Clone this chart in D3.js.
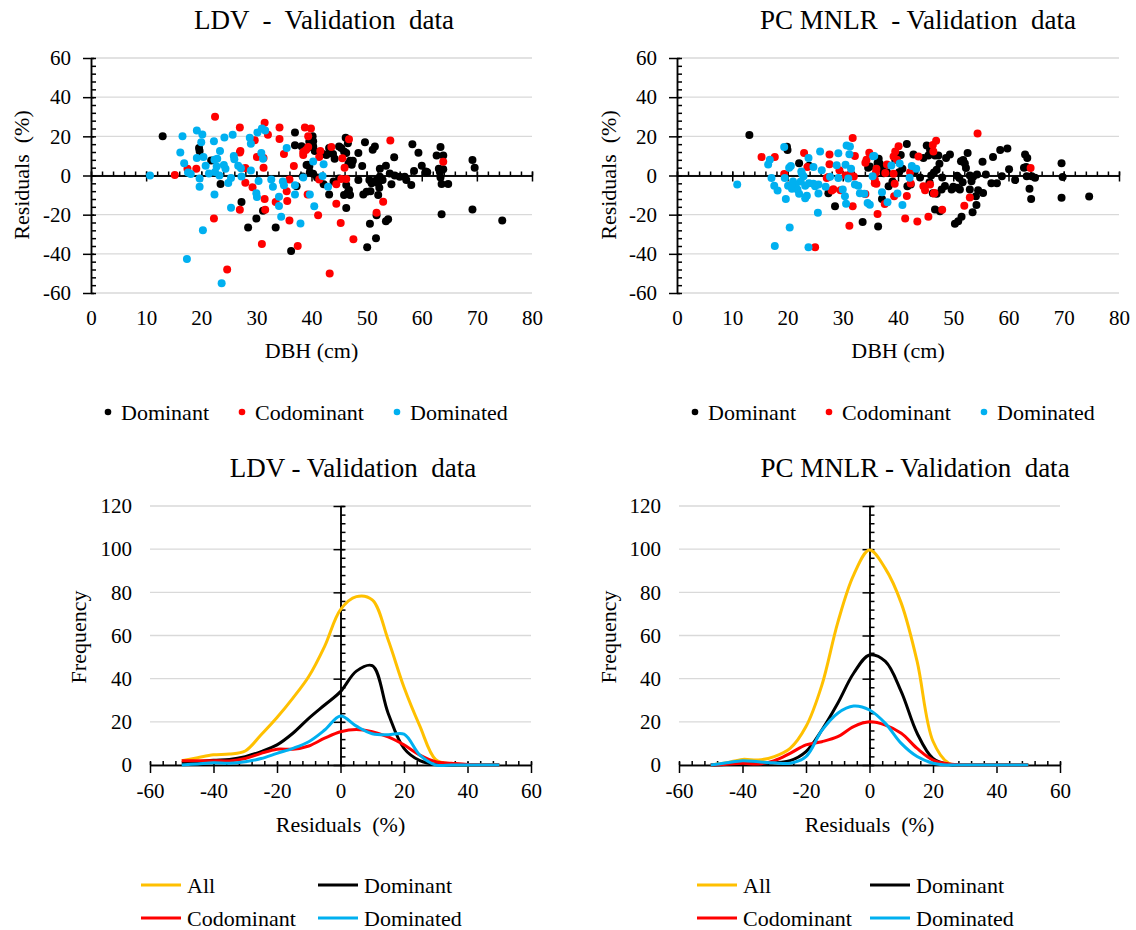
<!DOCTYPE html>
<html>
<head>
<meta charset="utf-8">
<script src="https://cdn.jsdelivr.net/npm/d3@7"></script>
<style>
body { margin: 0; background: #fff; }
</style>
</head>
<body>
<svg id="chart" width="1136" height="930"></svg>
<script>
// ---- data ----
var classNames = ["Dominant", "Codominant", "Dominated"];
var dbhTicks = [0, 10, 20, 30, 40, 50, 60, 70, 80];
var residTicks = [-60, -40, -20, 0, 20, 40, 60];
var freqTicks = [0, 20, 40, 60, 80, 100, 120];

// LDV residuals, [DBH cm, residual %]
var ldvDominant = [[13,20],[19.6,14],[19.7,12.5],[21.8,7.7],[23.5,-4.3],[27.3,-13.5],[28.5,-26.5],[30,-22],[31.2,-18],[33.5,-26.5],
  [36.3,-38.5],[37,22],[37,15.5],[38.2,15],[39.3,14],[39.6,17.4],[39.3,5.5],[38.4,-0.5],[37.3,-5.5],[40.2,20],[40.3,17.5],[39.6,15],
  [40.3,15],[40.6,12.5],[42.1,11],[42.7,10.5],[43.3,12.3],[43.9,11],[44.2,8.6],[43.2,14],[45,14.8],[45.4,14],[45.9,12.3],[46.3,11.5],
  [46.2,19.3],[46.6,16.5],[46.7,6],[47,7.5],[47.3,5.5],[47.5,7.5],[48.5,11.5],[49.2,4.9],[49.7,17],[51.1,13.1],[51.5,14.8],[55,9.3],
  [52.4,3.5],[53.5,5],[58.3,16],[59.4,11.6],[60,5],[60.7,2],[63.4,14.6],[62.7,10.2],[63.9,10.2],[63.1,3.5],[63.9,3.2],[63.4,-1],
  [63.6,-4.4],[64.8,-4.4],[69.2,7.9],[69.6,3.9],[63.6,-19.8],[69.2,-17.4],[74.6,-23],[48.5,-2.3],[50.5,-2.3],[50.9,-4],[51.8,-2.3],
  [52.1,-4],[52.4,-0.6],[52.9,-2.3],[54.2,1],[54.5,-4.5],[55.1,0],[56,-0.6],[56.9,-0.6],[57.2,-2.3],[58.1,-4.9],[58.6,2.3],[60.9,1.6],
  [63.3,1.6],[46.3,-4.9],[46.8,-7.4],[45.9,-10],[47,-10],[46.6,-8.6],[46.3,-16.6],[49.4,-9.7],[50,-8.3],[50.7,-8],[52.1,-10],
  [52.3,-6.3],[51.8,-20.3],[53.5,-23.4],[53.9,-22.3],[50.6,-24.6],[51.7,-32],[50.1,-36.6],[43.2,-9.7],[42.2,-4.5],[39.1,5.3],
  [39.6,4.6],[39.7,1.6],[40.3,0.9],[41,-1],[44,-3],[45,-1.5],[61,1.7]];
var ldvCodominant = [[15.2,0.3],[17.5,3.5],[19.1,3.5],[22.5,30],[22.3,-22],[24.7,-48],[27,24.5],[27.1,12.5],[27,11.8],[27,-17.5],
  [28,3.8],[28,-3.7],[29.3,-6],[29.7,18],[30.1,9.5],[31.3,9],[31.3,4],[31.5,27],[31.5,-12],[31.6,-17.5],[31,-35],[32.1,20.8],
  [33.5,-13.5],[34.2,24.5],[34.2,18.6],[35.6,-13],[35.5,-8],[36,-2],[36,-23],[37.5,-36],[38.5,12],[38.5,10.5],[38.8,24.5],[39.9,24],
  [39.4,20],[39,13],[39.3,-9.7],[39.4,14.5],[41.6,12.5],[41.4,9.5],[43.6,14.5],[41.4,-2],[41.2,-20.3],[43.3,-50],[44.5,-4.5],
  [44.5,-14.4],[45.3,-24.3],[45.4,-1.8],[46.3,-1.8],[45.6,8.8],[46,4],[46.8,18.5],[47.6,-32.6],[51.8,-19],[53,-13.4],[54.3,17.9],
  [63.9,7],[35,11],[36.8,4.8]];
var ldvDominated = [[10.7,0],[16.6,20],[16.2,11.7],[16.9,6.3],[17.6,1.5],[18.1,0.8],[19.2,23],[20.2,21],[20,17],[19.2,9],[20.4,9.5],
  [20.8,5],[21.4,1],[19.7,-1.5],[19.7,-5.8],[22.3,17.5],[22.4,8],[22.9,8.5],[22.8,4.6],[22.5,1.8],[23.3,0],[23.4,12.5],[24.2,19.4],
  [24.1,5.3],[24.4,3.5],[22.4,-9.7],[24.9,-3.8],[25.4,-1.3],[25.7,20.8],[25.9,10],[26,8.3],[26.7,5],[27.2,3.7],[27.3,-0.5],
  [25.4,-16.5],[20.3,-28],[17.4,-42.6],[23.7,-55],[28.8,19.3],[29,16.2],[29,2.5],[30.2,22],[31,24],[31.6,23],[30.9,11.5],[31.2,8.5],
  [30.4,-2.8],[30,-9],[30.1,-11],[32.7,-2],[33,-5.8],[34.1,-10.8],[34.1,-15.6],[35,-5],[34.8,-3],[35.5,14],[37,-9.7],[38,-24.5],
  [38.5,-1],[39.7,-9.7],[40.3,7.1],[42.2,5.7],[42,-0.2],[43,-5.8],[40.5,-15.7],[34.5,-21],[37,-5]];

// PC MNLR residuals, [DBH cm, residual %]
var pcDominant = [[13.1,20.7],[19.9,14.7],[20,13],[22.1,6.2],[23.9,5],[27.4,-9],[28.6,-15.7],[33.6,-23.8],[34.9,4.6],[34.6,3.9],
  [36.3,6.4],[36.4,-26],[36.5,8.5],[36.7,6],[37.1,3.5],[37.4,1.2],[38,1.7],[40.2,1.7],[40.8,3.4],[41.7,-5.5],[42.3,-4.6],[38.3,-5.5],
  [37.1,-12],[41.6,16.1],[45.2,15.3],[45.8,13],[42.8,10.7],[44.6,9],[45.5,10.2],[46.7,10.2],[47.3,10.2],[48.7,9],[49.4,10.7],
  [52.6,11.5],[51.4,7.3],[51.8,7.9],[52.1,6.1],[52.3,3.8],[55.3,7],[57.2,9.5],[58.5,13],[59.8,13.8],[60.1,3.2],[61.2,-2.3],[63,10.7],
  [63.4,9],[62.8,3.9],[63.2,4.3],[63.3,-0.4],[64.2,-0.4],[64.8,-1.2],[63.8,-6.8],[64.1,-12],[69.6,6.3],[69.8,-0.8],[69.6,-11.3],
  [74.6,-10.7],[50.3,-24.6],[50.9,-23.3],[51.5,-21],[53.5,-18.8],[54.2,-15],[53,-7.2],[53.3,-2.9],[54.1,-10.6],[54.5,-7.5],[55.4,-8.9],
  [50.7,-0.1],[51.1,-1.3],[51.7,-3.4],[53,0],[53.6,-0.7],[54.3,0.5],[55.9,0.5],[56.9,-4],[57.9,-4],[58.8,-0.4],[48.5,-5.3],[49.7,-7.2],
  [50,-5.8],[51.2,-7.2],[50.7,-6.3],[45.7,-3.4],[46.3,-9],[47,-9.3],[47.9,-7.2],[46.7,-17.4],[47.6,-18.3],[46,0],[47,3],[48,-1],
  [47.5,6],[46.5,1.5],[39,-3],[43,2],[44,-1],[39.5,8],[40.5,10.5]];
var pcCodominant = [[15.3,9.4],[17.7,9.4],[19.4,0.8],[23,11.5],[23.6,4.3],[25,-36.6],[27.6,10.7],[27.6,5.8],[27.1,-1.3],[27.4,-0.8],
  [28,-7.7],[28.3,-7],[29.6,-7.5],[31.8,19.1],[32.2,9.9],[31.8,-15.7],[31.2,-25.6],[34.3,8.1],[34.1,6.5],[34.8,11.6],[35.8,-3.9],
  [36.3,-19.7],[36,1.5],[54.4,21.5],[46.9,17.7],[46.3,15.6],[46.4,12.2],[40.1,14.9],[39.5,12.3],[39.2,9.7],[39.8,8.1],[43.7,9.7],
  [46.5,-9.2],[48,-17.5],[45.5,-21],[43.5,-23.5],[41.3,-22],[53,-11.2],[52,-15.5],[44.6,-5.5],[44.9,-7.5],[45.8,-4.6],[46.6,-8.9],
  [41.6,-10.5],[39.3,-10.6],[39.4,-4.2],[36.1,-4.2],[35.8,-2.1],[37.7,1.3],[39.2,0.9],[38,5.6],[36.1,3.5],[42.2,1.7],[42.3,-4.1],
  [64,3.8],[30.5,0],[32,-0.5],[29.4,2.7],[31.3,0.5],[34.1,-9.5],[37.6,-14.5]];
var pcDominated = [[10.9,-4.6],[16.8,8.1],[16.5,5.6],[19.4,14.5],[20.3,3.9],[20.6,4.8],[17.1,-1.3],[17.6,-5.2],[18.2,-7.7],[19.5,-1.3],
  [20.1,-5.2],[21.1,-5.5],[21.5,-4.6],[20.8,-6.8],[21.8,-7.2],[19.7,-12],[20.4,-26.5],[17.7,-36],[23.8,-36.6],[22.6,0.9],[22.9,-0.4],
  [22.4,-3],[22.1,-9.3],[23.2,-11.6],[23.5,-10.4],[23.8,9],[24.7,4.4],[23.2,-5.2],[23.9,-3.9],[24.7,-4.2],[25,-5.5],[25.6,-4.6],
  [25.6,-9.2],[25.5,-19],[25.9,12.3],[26.2,2.7],[26.9,-5.8],[27.7,-0.6],[28.9,5.2],[29.2,11.3],[29.2,-1.3],[30,-7.2],[30.4,-10.6],
  [30.6,-14.4],[30.5,5.5],[30.7,15.3],[31.3,14.8],[31.2,10.8],[32.2,-4.6],[32.8,-5.2],[33.1,-9],[34.5,-14.1],[33.9,-9.3],[35.5,9.8],
  [35.4,-0.4],[35.7,9.9],[38.8,5.1],[40.3,6.1],[42.5,4.8],[43.3,3.4],[42.1,-1.2],[37.1,-8.6],[38.1,-13.7],[39.9,-9.2],[40.8,-15.1],
  [34.9,-14.9],[31.5,3.5],[31,-1.5],[22.5,2],[21,-3]];

// frequency of residual classes
var residClasses = [-50,-45,-40,-35,-30,-25,-20,-15,-10,-5,0,5,10,15,20,25,30,35,40,45,50];
var curveNames = ["All", "Dominant", "Codominant", "Dominated"];
var ldvAllFreq  = [2,3.4,4.7,5.1,6.5,14,22,31,41,55,72,78,76.5,58,36,18,2.5,0.5,0,0,0];
var ldvDomFreq  = [1,1.5,2.2,2.6,3.9,6.2,9.3,14.7,21.6,27.8,34,43.5,46,24,7.7,2,0.2,0,0,0,0];
var ldvCodFreq  = [2,2,2,1.9,3,5.4,7.3,7.3,8.8,12.4,15.4,16.5,15.4,13,9.3,4.6,1.5,0.8,0.2,0,0];
var ldvDomdFreq = [0,0.5,1,0.8,1.5,3,5.4,7.7,10.8,16.2,22.7,18,14.5,14,14.3,4.6,0,0,0,0,0];
var pcAllFreq   = [0,1,2.6,2.3,3.9,7.7,17.8,37,66,88,99.6,91,75,48,11,0.8,0,0,0,0,0];
var pcDomFreq   = [0,0.2,0.5,0.7,1,2,6.2,16.2,28.6,42.5,51,48,34,14.7,3,0.2,0,0,0,0,0];
var pcCodFreq   = [0,0.3,0.8,0.5,2,5.4,9.3,10.8,13.1,17.8,20,18.5,14.7,7.7,2.3,0.5,0,0,0,0,0];
var pcDomdFreq  = [0,1,2,1.5,1,0.8,3.9,16,24,27.3,25.5,19.3,10,3.9,0.8,0,0,0,0,0,0];

var classColors = ["#000000", "#ff0000", "#00b0f0"];
var curveColors = ["#ffc000", "#000000", "#ff0000", "#00b0f0"];

var svg = d3.select("#chart");
var FONT = "'Times New Roman', Times, 'Liberation Serif', 'DejaVu Serif', 'Noto Serif', serif";
var plain = function(d) { return String(d); };   // hyphen minus like the original

function blackAxis(sel) {
  sel.attr("font-family", FONT).attr("font-size", 21);
  sel.selectAll("text").attr("font-family", FONT).attr("font-size", 21).attr("fill", "#000");
  sel.select(".domain").attr("stroke", "#000").attr("stroke-width", 1.5);
  sel.selectAll(".tick line").attr("stroke", "#000").attr("stroke-width", 1.5);
}

function preText(g, txt, x, y, size, anchor) {
  return g.append("text")
    .attr("x", x).attr("y", y)
    .attr("xml:space", "preserve")
    .style("white-space", "pre")
    .attr("font-family", FONT)
    .attr("font-size", size)
    .attr("text-anchor", anchor || "middle")
    .attr("fill", "#000")
    .text(txt);
}

// scatter of residuals against DBH
function scatterPanel(p) {
  var x = d3.scaleLinear().domain([0, 80]).range([p.left, p.right]);
  var y = d3.scaleLinear().domain([-60, 60]).range([293, 58]);
  var g = svg.append("g");

  g.append("g").selectAll("line").data(residTicks).join("line")
    .attr("x1", x(0)).attr("x2", x(80))
    .attr("y1", function(d) { return y(d); }).attr("y2", function(d) { return y(d); })
    .attr("stroke", "#d9d9d9").attr("stroke-width", 1.3);

  // y axis labels
  g.append("g").attr("transform", "translate(" + x(0) + ",0)")
    .call(d3.axisLeft(y).tickValues(residTicks).tickSize(0).tickPadding(20).tickFormat(plain))
    .call(blackAxis).call(function(s) { s.select(".domain").remove(); });
  // y minor + major ticks
  g.append("g").attr("transform", "translate(" + x(0) + ",0)")
    .call(d3.axisLeft(y).tickValues(d3.range(-60, 61, 4)).tickSize(-5).tickSizeOuter(0).tickFormat(""))
    .call(blackAxis);
  g.append("g").attr("transform", "translate(" + x(0) + ",0)")
    .call(d3.axisLeft(y).tickValues(residTicks).tickSize(8).tickSizeOuter(0).tickFormat(""))
    .call(blackAxis)
    .selectAll(".tick line").attr("x1", 3);

  // x axis labels sit under the plot
  g.append("g").attr("transform", "translate(0," + y(-60) + ")")
    .call(d3.axisBottom(x).tickValues(dbhTicks).tickSize(0).tickPadding(17).tickFormat(plain))
    .call(blackAxis).call(function(s) { s.select(".domain").remove(); });
  g.append("g").attr("transform", "translate(0," + y(0) + ")")
    .call(d3.axisBottom(x).tickValues(d3.range(0, 81, 2)).tickSize(-4).tickSizeOuter(0).tickFormat(""))
    .call(blackAxis);
  g.append("g").attr("transform", "translate(0," + y(0) + ")")
    .call(d3.axisBottom(x).tickValues(dbhTicks).tickSize(6).tickSizeOuter(0).tickFormat(""))
    .call(blackAxis)
    .selectAll(".tick line").attr("y1", -4);

  p.data.forEach(function(pts, i) {
    g.append("g").selectAll("circle").data(pts).join("circle")
      .attr("cx", function(d) { return x(d[0]); })
      .attr("cy", function(d) { return y(d[1]); })
      .attr("r", 4)
      .attr("fill", classColors[i]);
  });

  preText(g, p.title, p.titleX, 29, 27);
  preText(g, "Residuals  (%)", 0, 0, 22)
    .attr("transform", "translate(" + p.ylabX + ",175) rotate(-90)")
    .attr("dy", "0.35em");
  preText(g, "DBH (cm)", (p.left + p.right) / 2, 358, 22);

  classNames.forEach(function(name, i) {
    g.append("circle").attr("cx", p.legDot[i]).attr("cy", 412).attr("r", 3.3).attr("fill", classColors[i]);
    preText(g, name, p.legDot[i] + 13, 420, 22, "start");
  });
}

// frequency curves of residual classes
function densityPanel(p) {
  var x = d3.scaleLinear().domain([-60, 60]).range([p.left, p.right]);
  var y = d3.scaleLinear().domain([0, 120]).range([765, 506]);
  var g = svg.append("g");

  g.append("g").selectAll("line").data(freqTicks).join("line")
    .attr("x1", x(-60)).attr("x2", x(60))
    .attr("y1", function(d) { return y(d); }).attr("y2", function(d) { return y(d); })
    .attr("stroke", "#d9d9d9").attr("stroke-width", 1.3);

  g.append("g").attr("transform", "translate(" + x(-60) + ",0)")
    .call(d3.axisLeft(y).tickValues(freqTicks).tickSize(0).tickPadding(18).tickFormat(plain))
    .call(blackAxis).call(function(s) { s.select(".domain").remove(); });
  g.append("g").attr("transform", "translate(" + x(0) + ",0)")
    .call(d3.axisLeft(y).tickValues(d3.range(0, 121, 4)).tickSize(-5).tickSizeOuter(0).tickFormat(""))
    .call(blackAxis);
  g.append("g").attr("transform", "translate(" + x(0) + ",0)")
    .call(d3.axisLeft(y).tickValues(freqTicks).tickSize(7).tickSizeOuter(0).tickFormat(""))
    .call(blackAxis)
    .selectAll(".tick line").attr("x1", 4);

  g.append("g").attr("transform", "translate(0," + y(0) + ")")
    .call(d3.axisBottom(x).tickValues(residTicks).tickSize(0).tickPadding(18).tickFormat(plain))
    .call(blackAxis).call(function(s) { s.select(".domain").remove(); });
  g.append("g").attr("transform", "translate(0," + y(0) + ")")
    .call(d3.axisBottom(x).tickValues(d3.range(-60, 61, 4)).tickSize(-4).tickSizeOuter(0).tickFormat(""))
    .call(blackAxis);
  g.append("g").attr("transform", "translate(0," + y(0) + ")")
    .call(d3.axisBottom(x).tickValues(residTicks).tickSize(8).tickSizeOuter(0).tickFormat(""))
    .call(blackAxis)
    .selectAll(".tick line").attr("y1", -3);

  var line = d3.line()
    .x(function(d, i) { return x(residClasses[i]); })
    .y(function(d) { return y(d); })
    .curve(d3.curveCatmullRom.alpha(0.5));

  p.series.forEach(function(vals, i) {
    g.append("path").datum(vals)
      .attr("d", line)
      .attr("fill", "none")
      .attr("stroke", curveColors[i])
      .attr("stroke-width", 3)
      .attr("stroke-linejoin", "round");
  });

  preText(g, p.title, p.titleX, 477, 27);
  preText(g, "Frequency", 0, 0, 22)
    .attr("transform", "translate(" + p.ylabX + ",637) rotate(-90)")
    .attr("dy", "0.35em");
  preText(g, "Residuals  (%)", (p.left + p.right) / 2, 832, 22);

  curveNames.forEach(function(name, i) {
    var lx = p.legX[i % 2], ly = i < 2 ? 885 : 918;
    g.append("line").attr("x1", lx).attr("x2", lx + 40).attr("y1", ly).attr("y2", ly)
      .attr("stroke", curveColors[i]).attr("stroke-width", 3);
    preText(g, name, lx + 46, ly + 7.5, 22, "start");
  });
}

scatterPanel({ left: 91, right: 532, title: "LDV  -  Validation  data", titleX: 324, ylabX: 21,
  data: [ldvDominant, ldvCodominant, ldvDominated], legDot: [108, 242, 397] });
scatterPanel({ left: 677, right: 1119, title: "PC MNLR  - Validation  data", titleX: 918, ylabX: 608,
  data: [pcDominant, pcCodominant, pcDominated], legDot: [695, 829, 984] });
densityPanel({ left: 150, right: 531, title: "LDV - Validation  data", titleX: 353, ylabX: 78,
  series: [ldvAllFreq, ldvDomFreq, ldvCodFreq, ldvDomdFreq], legX: [141, 318] });
densityPanel({ left: 679, right: 1060, title: "PC MNLR - Validation  data", titleX: 915, ylabX: 608,
  series: [pcAllFreq, pcDomFreq, pcCodFreq, pcDomdFreq], legX: [697, 870] });
</script>
</body>
</html>
